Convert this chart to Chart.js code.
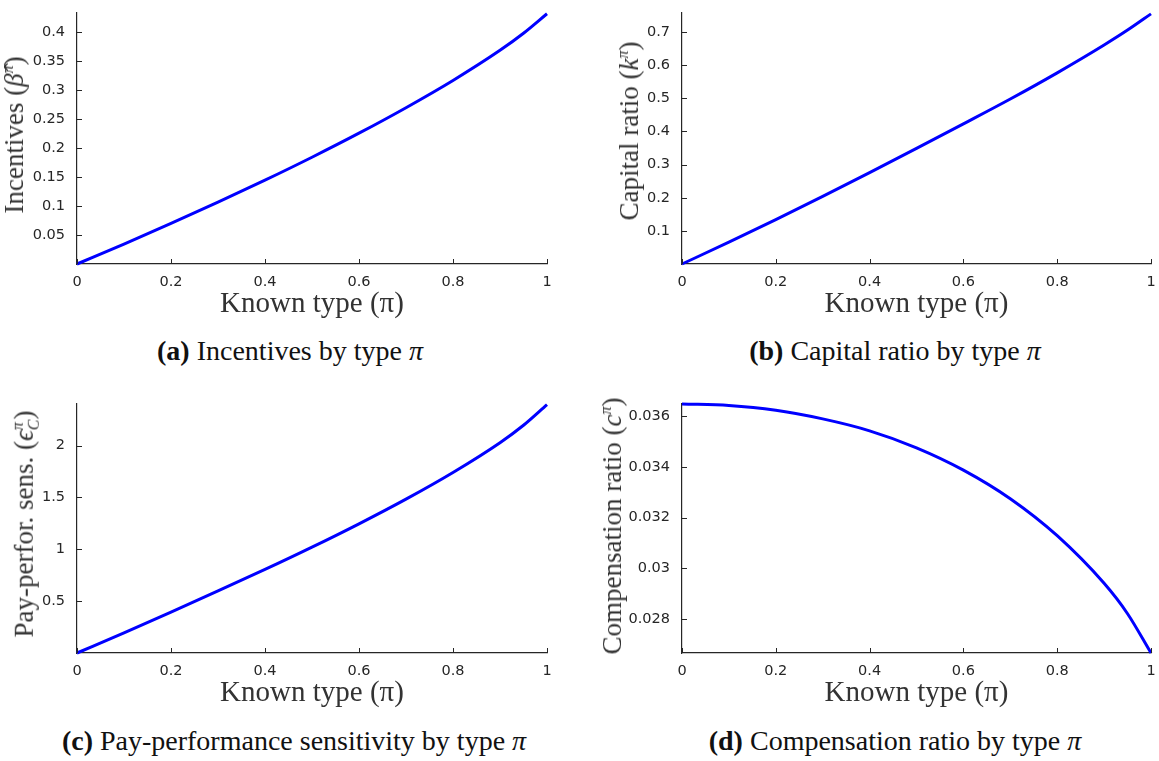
<!DOCTYPE html>
<html>
<head>
<meta charset="utf-8">
<script src="https://cdn.jsdelivr.net/npm/chart.js@4.4.1/dist/chart.umd.min.js"></script>
<style>
  body { margin: 0; background: #fff; width: 1159px; height: 761px; position: relative; overflow: hidden; }
  .panel { position: absolute; }
  .ytitle {
    position: absolute; white-space: nowrap; line-height: 1;
    font-family: "Liberation Serif", serif; font-size: 27px; color: #333;
    transform: translate(-50%, -50%) rotate(-90deg);
  }
  .ytitle sup, .ytitle sub { font-size: 16px; font-style: italic; }
  .ytitle i { font-style: italic; }
  .caption {
    position: absolute; white-space: nowrap; transform: translate(-50%, -50%);
    font-family: "Liberation Serif", serif; font-size: 28px; color: #111;
  }
  .caption b { font-weight: bold; }
</style>
</head>
<body>
<div class="panel" style="left:0;top:0"><canvas id="chartA" width="575" height="325"></canvas></div>
<div class="panel" style="left:605px;top:0"><canvas id="chartB" width="554" height="325"></canvas></div>
<div class="panel" style="left:0;top:391px"><canvas id="chartC" width="575" height="323"></canvas></div>
<div class="panel" style="left:605px;top:391px"><canvas id="chartD" width="554" height="323"></canvas></div>

<div class="ytitle" style="left:14px;top:135px">Incentives (<i>β̂</i><sup>π</sup>)</div>
<div class="ytitle" style="left:629px;top:131px">Capital ratio (<i>k</i><sup>π</sup>)</div>
<div class="ytitle" style="left:26px;top:524px">Pay-perfor. sens. (<i>ϵ</i><sup>π</sup><sub style="margin-left:-8px">C</sub>)</div>
<div class="ytitle" style="left:612px;top:526px">Compensation ratio (<i>c</i><sup>π</sup>)</div>

<div class="caption" style="left:290px;top:351px"><b>(a)</b> Incentives by type <i>π</i></div>
<div class="caption" style="left:895px;top:351px"><b>(b)</b> Capital ratio by type <i>π</i></div>
<div class="caption" style="left:294px;top:741px"><b>(c)</b> Pay-performance sensitivity by type <i>π</i></div>
<div class="caption" style="left:895px;top:741px"><b>(d)</b> Compensation ratio by type <i>π</i></div>

<script>
// known type pi
const typePi = [0, 0.1, 0.2, 0.3, 0.4, 0.5, 0.6, 0.7, 0.8, 0.9, 0.95, 1];

const incentives = [0, 0.0345, 0.0700, 0.1067, 0.1447, 0.1843, 0.2258, 0.2698, 0.3168, 0.3688, 0.3983, 0.4320];
const capitalRatio = [0, 0.066, 0.134, 0.204, 0.276, 0.349, 0.423, 0.498, 0.577, 0.661, 0.706, 0.755];
const payPerfSens = [0, 0.195, 0.395, 0.598, 0.805, 1.020, 1.245, 1.483, 1.740, 2.027, 2.195, 2.394];
const compRatio = [0.03649, 0.03643, 0.03624, 0.0359, 0.03543, 0.03476, 0.03388, 0.03275, 0.03129, 0.02941, 0.02821, 0.02666];

const xTicks = [0, 0.2, 0.4, 0.6, 0.8, 1];
const yTicksA = [0.05, 0.1, 0.15, 0.2, 0.25, 0.3, 0.35, 0.4];
const yTicksB = [0.1, 0.2, 0.3, 0.4, 0.5, 0.6, 0.7];
const yTicksC = [0.5, 1, 1.5, 2];
const yTicksD = [0.028, 0.03, 0.032, 0.034, 0.036];

const axisColor = '#262626';
const tickFont = { family: 'DejaVu Sans', size: 14.5 };

// matlab style ticks pointing into the plot
const innerTicks = {
    id: 'innerTicks',
    afterDraw(chart) {
        const ctx = chart.ctx;
        const area = chart.chartArea;
        ctx.save();
        ctx.strokeStyle = axisColor;
        ctx.lineWidth = 1;
        ctx.beginPath();
        chart.scales.x.ticks.forEach(t => {
            const px = Math.round(chart.scales.x.getPixelForValue(t.value)) + 0.5;
            ctx.moveTo(px, area.bottom);
            ctx.lineTo(px, area.bottom - 5);
        });
        chart.scales.y.ticks.forEach(t => {
            const py = Math.round(chart.scales.y.getPixelForValue(t.value)) + 0.5;
            ctx.moveTo(area.left, py);
            ctx.lineTo(area.left + 5, py);
        });
        ctx.stroke();
        ctx.restore();
    }
};

function makePanel(id, values, yMin, yMax, yTicks, padRight) {
    const ctx = document.getElementById(id).getContext('2d');
    return new Chart(ctx, {
        type: 'line',
        data: {
            datasets: [{
                data: typePi.map((x, i) => ({ x: x, y: values[i] })),
                borderColor: '#0000ff',
                borderWidth: 3,
                pointRadius: 0,
                cubicInterpolationMode: 'monotone',
                clip: false
            }]
        },
        options: {
            responsive: false,
            animation: false,
            layout: { padding: { top: 3, right: padRight, left: 0, bottom: 0 } },
            plugins: { legend: { display: false }, tooltip: { enabled: false } },
            scales: {
                x: {
                    type: 'linear', min: 0, max: 1,
                    afterBuildTicks: s => { s.ticks = xTicks.map(v => ({ value: v })); },
                    afterFit: s => { s.height = 61; },
                    grid: { display: false },
                    border: { color: axisColor, width: 1.2 },
                    ticks: {
                        padding: 2, color: axisColor, font: tickFont,
                        maxRotation: 0,
                        callback: v => String(+v.toFixed(3))
                    },
                    title: {
                        display: true, text: 'Known type (π)', color: '#333',
                        font: { family: 'Liberation Serif', size: 29 },
                        padding: { top: 0, bottom: 3 }
                    }
                },
                y: {
                    type: 'linear', min: yMin, max: yMax,
                    afterBuildTicks: s => { s.ticks = yTicks.map(v => ({ value: v })); },
                    afterFit: s => { s.width = 77; },
                    grid: { display: false },
                    border: { color: axisColor, width: 1.2 },
                    ticks: {
                        padding: 4, color: axisColor, font: tickFont,
                        callback: v => String(+v.toFixed(4))
                    }
                }
            }
        },
        plugins: [innerTicks]
    });
}

makePanel('chartA', incentives, 0, 0.4338, yTicksA, 28);
makePanel('chartB', capitalRatio, 0, 0.7585, yTicksB, 8);
makePanel('chartC', payPerfSens, 0, 2.403, yTicksC, 28);
makePanel('chartD', compRatio, 0.02666, 0.0365, yTicksD, 8);
</script>
</body>
</html>
